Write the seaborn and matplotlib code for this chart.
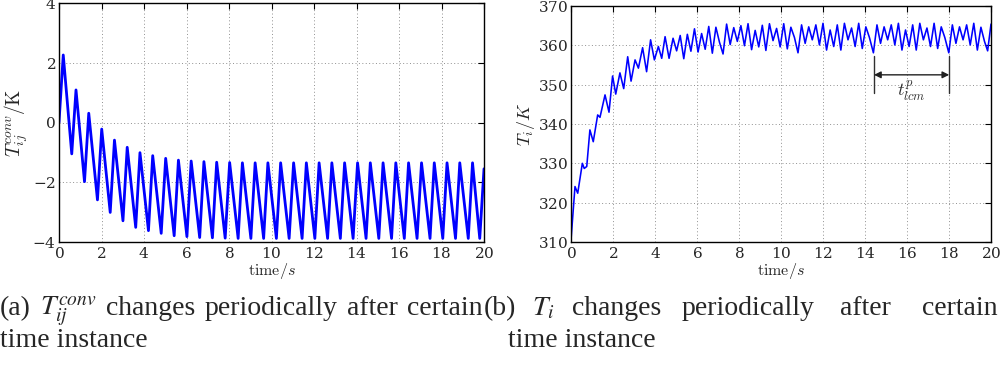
import numpy as np
import pandas as pd
import matplotlib
matplotlib.use("Agg")
import matplotlib.pyplot as plt
import seaborn as sns

# ---------------- data ----------------
# (a) T_ij^conv: vertices of the oscillation (time in s, value in K)
conv_peak_t = [0.20, 0.80, 1.40, 2.01, 2.61, 3.21, 3.81, 4.41, 5.02, 5.62, 6.22,
               6.82, 7.42, 8.03, 8.63, 9.23, 9.83, 10.43, 11.04, 11.64, 12.24,
               12.84, 13.44, 14.05, 14.65, 15.25, 15.85, 16.45, 17.06, 17.66,
               18.26, 18.86, 19.46]
conv_peak_v = [2.26, 1.09, 0.31, -0.22, -0.59, -0.83, -1.01, -1.11, -1.20, -1.26,
               -1.29, -1.31, -1.33, -1.34, -1.35, -1.35, -1.35, -1.35, -1.35,
               -1.35, -1.35, -1.35, -1.35, -1.35, -1.35, -1.35, -1.35, -1.35,
               -1.35, -1.35, -1.35, -1.35, -1.35]
conv_trough_t = [0.60, 1.20, 1.81, 2.41, 3.01, 3.61, 4.21, 4.81, 5.42, 6.02, 6.62,
                 7.22, 7.82, 8.43, 9.03, 9.63, 10.23, 10.83, 11.44, 12.04, 12.64,
                 13.24, 13.84, 14.45, 15.05, 15.65, 16.25, 16.85, 17.46, 18.06,
                 18.66, 19.26, 19.80]
conv_trough_v = [-1.05, -1.98, -2.59, -3.01, -3.29, -3.51, -3.62, -3.71, -3.79,
                 -3.82, -3.85, -3.86, -3.87, -3.88, -3.88, -3.88, -3.88, -3.88,
                 -3.88, -3.88, -3.88, -3.88, -3.88, -3.88, -3.88, -3.88, -3.88,
                 -3.88, -3.88, -3.88, -3.88, -3.88, -3.88]
conv_start = (0.0, 0.0)
conv_end = (20.0, -1.55)

# (b) T_i: vertices (time in s, value in K)
ti_t = [0.00, 0.19, 0.32, 0.54, 0.63, 0.75, 0.90, 1.06, 1.27, 1.38, 1.62, 1.81,
        1.98, 2.13, 2.33, 2.51, 2.70, 2.86, 3.05, 3.21, 3.41, 3.60, 3.79, 3.97,
        4.16, 4.32, 4.48, 4.67,
        4.86, 5.03, 5.20, 5.37, 5.54, 5.71, 5.88, 6.05, 6.22, 6.39, 6.56, 6.73,
        6.90, 7.07, 7.24, 7.41, 7.58, 7.75, 7.92, 8.09, 8.26, 8.43, 8.60, 8.77,
        8.94, 9.11, 9.28, 9.45, 9.62, 9.79, 9.96, 10.13, 10.30, 10.47, 10.64,
        10.81, 10.98, 11.15, 11.32, 11.49, 11.66, 11.83, 12.00, 12.17, 12.34,
        12.51, 12.68, 12.85, 13.02, 13.19, 13.36, 13.53, 13.70, 13.87, 14.04,
        14.21, 14.40, 14.57, 14.74, 14.91, 15.08, 15.25, 15.42, 15.59, 15.76,
        15.93, 16.10, 16.27, 16.44, 16.61, 16.78, 16.95, 17.12, 17.29, 17.46,
        17.63, 17.80, 17.99, 18.16, 18.33, 18.50, 18.67, 18.84, 19.01, 19.18,
        19.35, 19.52, 19.69, 19.84, 20.00]
ti_v = [310.5, 324.1, 322.4, 330.0, 328.7, 329.2, 338.5, 335.5, 342.3, 341.7,
        347.4, 343.0, 352.2, 347.6, 353.0, 349.0, 357.1, 350.9, 356.3, 354.2,
        359.4, 353.3, 361.4, 356.3, 359.7, 356.7, 362.2, 356.7,
        361.8, 358.6, 362.5, 356.6, 362.8, 358.5, 364.2, 358.3, 363.0, 359.0,
        364.8, 358.0, 364.6, 360.8, 357.8, 365.4, 360.2, 364.5, 361.0, 365.0,
        359.9, 365.5, 358.9, 363.8, 359.6, 365.1, 358.7, 365.5, 361.2, 364.3,
        359.6, 365.5, 359.1, 364.6, 362.0, 358.1, 365.2, 360.5, 364.7, 361.4,
        365.2, 360.1, 365.6, 358.8, 363.9, 359.7, 365.2, 358.8, 365.6, 361.4,
        364.4, 359.7, 365.6, 359.2, 364.7, 362.0, 358.1, 365.2, 360.5, 364.7,
        361.4, 365.2, 360.1, 365.6, 358.8, 363.9, 359.7, 365.2, 358.8, 365.6,
        361.4, 364.4, 359.7, 365.6, 359.2, 364.7, 362.0, 358.1, 365.2, 360.5,
        364.7, 361.4, 365.2, 360.1, 365.6, 358.8, 364.6, 361.0, 358.6, 365.4]

lcm_start, lcm_end = 14.43, 18.01

xticks = list(range(0, 21, 2))
yticks_a = [-4, -2, 0, 2, 4]
yticks_b = [310, 320, 330, 340, 350, 360, 370]

caption_a_words = ["(a)", r"$T_{ij}^{conv}$", "changes", "periodically", "after",
                   "certain"]
caption_b_words = ["(b)", r"$T_i$", "changes", "periodically", "after", "certain"]
caption_line2 = "time instance"

# ---------------- build tables ----------------
conv_t = [conv_start[0]]
conv_v = [conv_start[1]]
for pt, pv, tt, tv in zip(conv_peak_t, conv_peak_v, conv_trough_t, conv_trough_v):
    conv_t += [pt, tt]
    conv_v += [pv, tv]
conv_t.append(conv_end[0])
conv_v.append(conv_end[1])
df_a = pd.DataFrame({"time": conv_t, "val": conv_v})
df_b = pd.DataFrame({"time": ti_t, "val": ti_v})

# ---------------- style ----------------
sns.set_style("white")
plt.rcParams["mathtext.fontset"] = "cm"
plt.rcParams["axes.formatter.use_mathtext"] = True
plt.rcParams["font.family"] = ["DejaVu Serif"]

W, H = 1001, 366
fig = plt.figure(figsize=(W / 100, H / 100), dpi=100)
ax1 = fig.add_axes([59 / W, 1 - 242 / H, 425 / W, 239 / H])
ax2 = fig.add_axes([571 / W, 1 - 242 / H, 420 / W, 236 / H])

sns.lineplot(data=df_a, x="time", y="val", ax=ax1, color="#0000ff",
             linewidth=2.0, estimator=None, sort=False)
sns.lineplot(data=df_b, x="time", y="val", ax=ax2, color="#0000ff",
             linewidth=1.15, estimator=None, sort=False)

for ax, yt in ((ax1, yticks_a), (ax2, yticks_b)):
    ax.set_xlim(0, 20)
    ax.set_ylim(yt[0], yt[-1])
    ax.set_xticks(xticks)
    ax.set_yticks(yt)
    ax.grid(True, linestyle=(0, (1, 2.5)), color="#909090", linewidth=0.7)
    ax.tick_params(direction="in", top=True, right=True, length=4,
                   labelsize=11, color="black", width=0.8)
    ax.tick_params(axis="x", pad=3)
    ax.tick_params(axis="y", pad=2)
    for s in ax.spines.values():
        s.set_color("black")
        s.set_linewidth(1.0)
    ax.set_xlabel(r"$\mathrm{time}/s$", fontsize=11.5, labelpad=0)

ax1.set_ylabel(r"$T_{ij}^{conv}/\mathrm{K}$", fontsize=14, labelpad=1)
ax2.set_ylabel(r"$T_i/K$", fontsize=13, labelpad=1)

# annotation of the lcm period
for xv in (lcm_start, lcm_end):
    ax2.plot([xv, xv], [357.2, 348.0], color="#303030", lw=1.0)
ax2.annotate("", xy=(lcm_start, 352.5), xytext=(lcm_end, 352.5),
             arrowprops=dict(arrowstyle="<|-|>", color="#202020", lw=1.0,
                             shrinkA=0, shrinkB=0, mutation_scale=10))
ax2.text((lcm_start + lcm_end) / 2, 348.4, r"$t_{lcm}^{p}$", ha="center",
         va="center", fontsize=13, color="#303030")

# captions: justified word by word, like the reference
cap_kw = dict(fontsize=20, fontfamily="Liberation Serif", math_fontfamily="stix",
              va="baseline", ha="left")
renderer = fig.canvas.get_renderer()


def justify(words, x0, x1, y):
    texts = [fig.text(0, 1 - y / H, w, **cap_kw) for w in words]
    widths = [t.get_window_extent(renderer).width for t in texts]
    gap = (x1 - x0 - sum(widths)) / (len(words) - 1)
    x = x0
    for t, wd in zip(texts, widths):
        t.set_x(x / W)
        x += wd + gap


justify(caption_a_words, 0, 483, 315)
for w, x in zip(caption_b_words, [484, 532, 572, 682, 840, 922]):
    fig.text(x / W, 1 - 315 / H, w, **cap_kw)
fig.text(0 / W, 1 - 347 / H, caption_line2, **cap_kw)
fig.text(508 / W, 1 - 347 / H, caption_line2, **cap_kw)

fig.savefig("out.png", dpi=100)
